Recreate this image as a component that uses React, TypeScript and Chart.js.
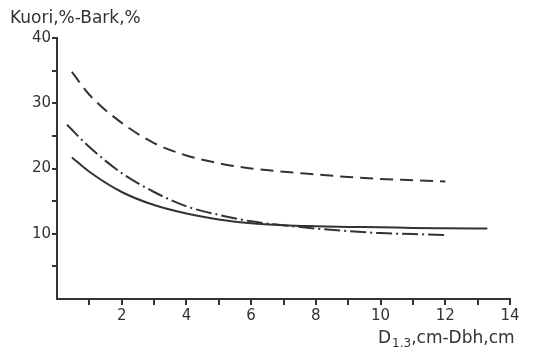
import React, { useEffect, useRef } from "react";
import { Chart, registerables } from "chart.js";

Chart.register(...registerables);

const dashedX = [0.46, 1, 2, 3, 4, 5, 6, 7, 8, 9, 10, 11, 12];
const dashedY = [34.8, 31.3, 27.0, 23.9, 22.0, 20.8, 20.0, 19.5, 19.1, 18.7, 18.4, 18.2, 18.0];

const dashDotX = [0.31, 1, 2, 3, 4, 5, 6, 7, 8, 9, 10, 11, 12];
const dashDotY = [26.7, 23.3, 19.3, 16.4, 14.2, 12.9, 11.9, 11.3, 10.8, 10.4, 10.1, 9.95, 9.8];

const solidX = [0.46, 1, 2, 3, 4, 5, 6, 7, 8, 9, 10, 11, 12, 13.3];
const solidY = [21.7, 19.5, 16.4, 14.4, 13.1, 12.2, 11.6, 11.3, 11.15, 11.05, 11.0, 10.9, 10.85, 10.8];

const xTickLabels = [2, 4, 6, 8, 10, 12, 14];
const yTickLabels = [10, 20, 30, 40];

const yTitle = "Kuori,%-Bark,%";
const xTitleMain = "D";
const xTitleSub = "1.3";
const xTitleRest = ",cm-Dbh,cm";

const INK = "#333333";
const FONT = "'DejaVu Sans', sans-serif";

const toPts = (xs: number[], ys: number[]) => xs.map((x, i) => ({ x, y: ys[i] }));

const titlePlugin = {
  id: "titles",
  afterDraw(chart: any) {
    const ctx = chart.ctx;
    ctx.save();
    ctx.fillStyle = INK;
    ctx.textBaseline = "alphabetic";
    ctx.textAlign = "left";
    ctx.font = `17px ${FONT}`;
    ctx.fillText(yTitle, 10, 23);
    let x = 378;
    const base = 343;
    ctx.font = `17px ${FONT}`;
    ctx.fillText(xTitleMain, x, base);
    x += ctx.measureText(xTitleMain).width + 1;
    ctx.font = `12px ${FONT}`;
    ctx.fillText(xTitleSub, x, base + 4);
    x += ctx.measureText(xTitleSub).width;
    ctx.font = `17px ${FONT}`;
    ctx.fillText(xTitleRest, x, base);
    ctx.restore();
  },
};

export default function App() {
  const ref = useRef<HTMLCanvasElement>(null);
  useEffect(() => {
    if (!ref.current) return;
    const lineBase = {
      borderColor: INK,
      borderWidth: 2,
      pointRadius: 0,
      fill: false,
      cubicInterpolationMode: "monotone" as const,
      showLine: true,
    };
    const chart = new Chart(ref.current, {
      type: "scatter",
      data: {
        datasets: [
          { ...lineBase, label: "dashed", data: toPts(dashedX, dashedY), borderDash: [13, 7] },
          { ...lineBase, label: "dashdot", data: toPts(dashDotX, dashDotY), borderDash: [16, 4, 2, 4] },
          { ...lineBase, label: "solid", data: toPts(solidX, solidY) },
        ],
      },
      options: {
        responsive: false,
        animation: false,
        events: [],
        layout: { padding: { left: 0, top: 38, right: 24, bottom: 0 } },
        plugins: { legend: { display: false }, tooltip: { enabled: false } },
        scales: {
          x: {
            type: "linear",
            min: 0,
            max: 14,
            afterFit: (s: any) => { s.height = 48; },
            border: { display: true, color: INK, width: 2 },
            grid: {
              display: true,
              drawOnChartArea: false,
              drawTicks: true,
              tickLength: 6,
              lineWidth: 2,
              color: (c: any) => (c.tick && c.tick.value === 0 ? "rgba(0,0,0,0)" : INK),
            },
            ticks: {
              stepSize: 1,
              autoSkip: false,
              maxRotation: 0,
              padding: 2,
              color: INK,
              font: { family: FONT, size: 15 },
              callback: (v: any) => (xTickLabels.includes(Number(v)) ? String(v) : ""),
            },
          },
          y: {
            type: "linear",
            min: 0,
            max: 40,
            afterFit: (s: any) => { s.width = 57; },
            border: { display: true, color: INK, width: 2 },
            grid: {
              display: true,
              drawOnChartArea: false,
              drawTicks: true,
              tickLength: 5,
              lineWidth: 2,
              color: (c: any) => (c.tick && c.tick.value === 0 ? "rgba(0,0,0,0)" : INK),
            },
            ticks: {
              stepSize: 5,
              autoSkip: false,
              padding: 1,
              color: INK,
              font: { family: FONT, size: 15 },
              callback: (v: any) => (yTickLabels.includes(Number(v)) ? String(v) : ""),
            },
          },
        },
      },
      plugins: [titlePlugin],
    });
    return () => chart.destroy();
  }, []);
  return (
    <div style={{ position: "absolute", left: 0, top: 0, width: 534, height: 347, background: "#fff" }}>
      <canvas ref={ref} width={534} height={347} style={{ width: 534, height: 347, display: "block" }} />
    </div>
  );
}
